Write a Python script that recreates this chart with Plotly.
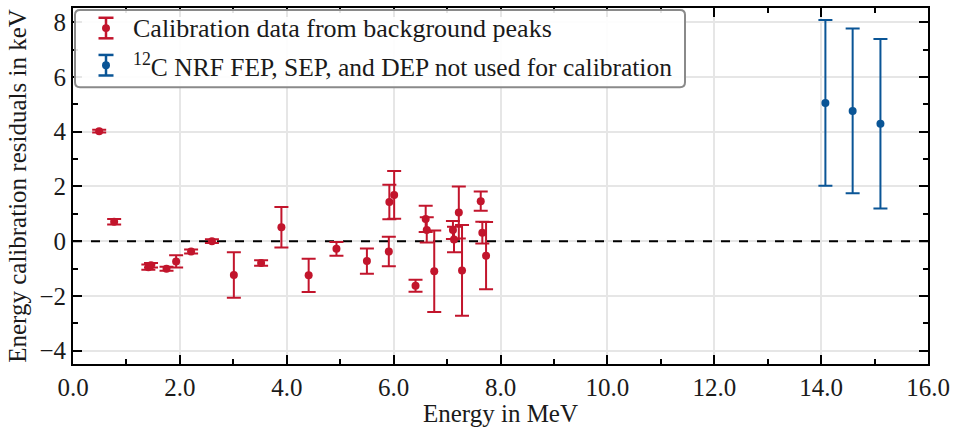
import plotly.graph_objects as go

# Calibration data from background peaks
cal_energy = [0.49, 0.77, 1.41, 1.46, 1.75, 1.93, 2.21, 2.60, 3.01, 3.52, 3.90,
              4.41, 4.93, 5.50, 5.91, 5.92, 6.01, 6.41, 6.60, 6.62, 6.76,
              7.11, 7.13, 7.22, 7.28, 7.63, 7.66, 7.73]
cal_resid = [4.02, 0.71, -0.95, -0.88, -1.01, -0.74, -0.38, 0.00, -1.24, -0.80, 0.51,
             -1.25, -0.28, -0.73, -0.38, 1.43, 1.69, -1.63, 0.81, 0.41, -1.10,
             0.41, 0.06, 1.05, -1.07, 1.46, 0.31, -0.53]
cal_err = [0.05, 0.10, 0.10, 0.08, 0.07, 0.22, 0.07, 0.07, 0.83, 0.10, 0.74,
           0.61, 0.25, 0.46, 0.54, 0.63, 0.87, 0.22, 0.48, 0.46, 1.49,
           0.33, 0.47, 0.95, 1.66, 0.35, 0.40, 1.23]

# 12C NRF FEP, SEP, DEP (not used for calibration)
c12_energy = [14.08, 14.59, 15.11]
c12_resid = [5.05, 4.76, 4.29]
c12_err = [3.03, 3.01, 3.10]

x_range = [0, 16]
y_range = [-4.49, 8.52]
x_ticks = [0, 2, 4, 6, 8, 10, 12, 14, 16]
y_ticks = [-4, -2, 0, 2, 4, 6, 8]

legend_labels = ["Calibration data from background peaks",
                 "<sup>12</sup>C NRF FEP, SEP, and DEP not used for calibration"]

red = "#c2152c"
blue = "#0a5596"
font_family = "Liberation Serif, DejaVu Serif, serif"

W, H = 962, 427
ML, MR, MT, MB = 73, 34, 6, 57
PW, PH = W - ML - MR, H - MT - MB


def px(xp):
    return (xp - ML) / PW


def py(yp):
    return (H - MB - yp) / PH


fig = go.Figure()
# zero reference line (drawn first so it sits beneath the data)
fig.add_trace(go.Scatter(
    x=x_range, y=[0, 0], mode="lines", hoverinfo="skip", showlegend=False,
    line=dict(color="black", width=2, dash="dash"),
))
fig.add_trace(go.Scatter(
    x=cal_energy, y=cal_resid, mode="markers",
    marker=dict(color=red, size=8),
    error_y=dict(type="data", array=cal_err, color=red, thickness=2, width=7),
    name=legend_labels[0], showlegend=False,
))
fig.add_trace(go.Scatter(
    x=c12_energy, y=c12_resid, mode="markers",
    marker=dict(color=blue, size=8),
    error_y=dict(type="data", array=c12_err, color=blue, thickness=2, width=7),
    name=legend_labels[1], showlegend=False,
))

# custom legend box (rounded corners)
x0, x1, y0, y1, r = 75, 685, 8, 87, 5
path = (f"M {px(x0 + r)} {py(y0)} L {px(x1 - r)} {py(y0)} "
        f"Q {px(x1)} {py(y0)} {px(x1)} {py(y0 + r)} "
        f"L {px(x1)} {py(y1 - r)} Q {px(x1)} {py(y1)} {px(x1 - r)} {py(y1)} "
        f"L {px(x0 + r)} {py(y1)} Q {px(x0)} {py(y1)} {px(x0)} {py(y1 - r)} "
        f"L {px(x0)} {py(y0 + r)} Q {px(x0)} {py(y0)} {px(x0 + r)} {py(y0)} Z")
fig.add_shape(type="path", xref="paper", yref="paper", path=path,
              fillcolor="rgba(255,255,255,0.9)", line=dict(color="#8a8a8a", width=2),
              layer="above")

rows = [(26.5, red, legend_labels[0], 26), (64.5, blue, legend_labels[1], 25.5)]
gx, half, cap = 106, 10.5, 7.5
for yc, col, label, fs in rows:
    fig.add_shape(type="line", xref="paper", yref="paper",
                  x0=px(gx), x1=px(gx), y0=py(yc - half), y1=py(yc + half),
                  line=dict(color=col, width=2.5), layer="above")
    for yy in (yc - half, yc + half):
        fig.add_shape(type="line", xref="paper", yref="paper",
                      x0=px(gx - cap), x1=px(gx + cap), y0=py(yy), y1=py(yy),
                      line=dict(color=col, width=2.5), layer="above")
    fig.add_shape(type="circle", xref="paper", yref="paper",
                  x0=px(gx - 4), x1=px(gx + 4), y0=py(yc - 4), y1=py(yc + 4),
                  fillcolor=col, line=dict(color=col, width=0), layer="above")
    fig.add_annotation(xref="paper", yref="paper", x=px(131), y=py(yc),
                       xanchor="left", yanchor="middle", text=label, showarrow=False,
                       font=dict(size=fs, color="#1a1a1a", family=font_family))

axis_common = dict(
    showline=True, linecolor="black", linewidth=2, mirror="allticks",
    ticks="inside", ticklen=9, tickwidth=2, tickcolor="black",
    showgrid=True, gridcolor="#e6e6e6", gridwidth=2, zeroline=False,
    tickfont=dict(size=25, color="#1a1a1a", family=font_family),
)

fig.update_layout(
    width=W, height=H,
    margin=dict(l=ML, r=MR, t=MT, b=MB),
    paper_bgcolor="white", plot_bgcolor="white",
    font=dict(family=font_family, size=25, color="#1a1a1a"),
    showlegend=False,
    xaxis=dict(axis_common, range=x_range, tickvals=x_ticks,
               ticktext=[f"{v:.1f}" for v in x_ticks],
               minor=dict(dtick=1, ticks="inside", ticklen=5, tickwidth=2,
                          tickcolor="black", showgrid=False),
               title=dict(text="Energy in MeV", font=dict(size=25), standoff=2)),
    yaxis=dict(axis_common, range=y_range, tickvals=y_ticks,
               ticktext=[str(v).replace("-", "\u2212") for v in y_ticks],
               minor=dict(dtick=1, ticks="inside", ticklen=5, tickwidth=2,
                          tickcolor="black", showgrid=False),
               title=dict(text="Energy calibration residuals in keV",
                          font=dict(size=25), standoff=6)),
)

fig.write_html("out.html")
